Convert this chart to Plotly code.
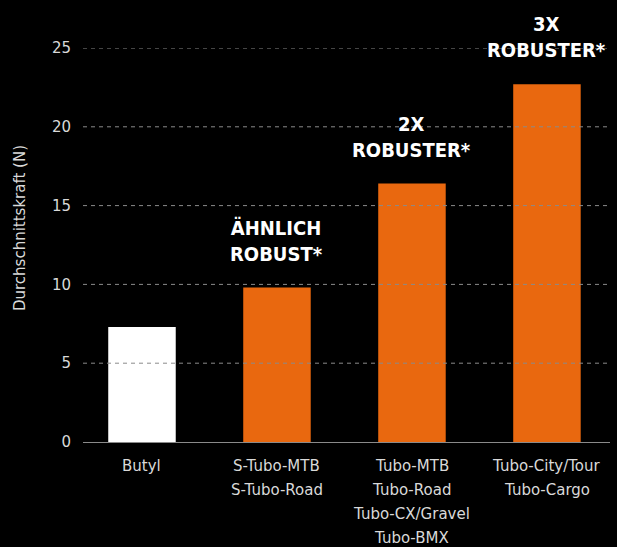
import plotly.graph_objects as go

categories = [["Butyl"], ["S-Tubo-MTB", "S-Tubo-Road"], ["Tubo-MTB", "Tubo-Road", "Tubo-CX/Gravel", "Tubo-BMX"], ["Tubo-City/Tour", "Tubo-Cargo"]]
values = [7.3, 9.8, 16.4, 22.7]
bar_colors = ["#FFFFFF", "#E9680F", "#E9680F", "#E9680F"]
labels = ["", "ÄHNLICH<br>ROBUST*", "2X<br>ROBUSTER*", "3X<br>ROBUSTER*"]
tick_vals = [0, 5, 10, 15, 20, 25]
y_title = "Durchschnittskraft (N)"

TXT = "#D9D9D9"
GRID = "#8A8A8A"

fig = go.Figure()
fig.add_trace(go.Bar(x=list(range(len(categories))), y=values,
                     marker=dict(color=bar_colors, line=dict(width=0)), width=0.5, hoverinfo="skip"))

for i, (v, t) in enumerate(zip(values, labels)):
    if t:
        fig.add_annotation(x=i, y=v, xref="x", yref="y", text=t, showarrow=False,
                           yanchor="bottom", yshift=20,
                           font=dict(family="DejaVu Sans Condensed", size=20, color="#FFFFFF", weight="bold"))

for i, lines in enumerate(categories):
    for k, line in enumerate(lines):
        fig.add_annotation(x=i, y=0, xref="x", yref="paper", text=line, showarrow=False,
                           yanchor="middle", yshift=-(24 + 24 * k),
                           font=dict(family="DejaVu Sans", size=15, color=TXT))

fig.add_annotation(x=0, y=0.543, xref="paper", yref="paper", text=y_title, showarrow=False,
                   textangle=-90, xanchor="center", yanchor="middle", xshift=-63,
                   font=dict(family="DejaVu Sans", size=15, color=TXT))

for tv in tick_vals[1:]:
    fig.add_shape(type="line", xref="paper", yref="y", x0=0, x1=1, y0=tv, y1=tv,
                  line=dict(color=GRID, width=1, dash="4px,4px"), layer="above")

fig.update_layout(
    width=617, height=547,
    paper_bgcolor="#000000", plot_bgcolor="#000000",
    margin=dict(l=83, r=7, t=48, b=105),
    showlegend=False,
    xaxis=dict(range=[-0.437, 3.467], showticklabels=False,
               showgrid=False, zeroline=False, showline=False, ticks=""),
    yaxis=dict(range=[0, 25], tickvals=tick_vals, showgrid=False,
               zeroline=True, zerolinecolor=GRID, zerolinewidth=1,
               ticks="", ticklabelstandoff=11,
               tickfont=dict(family="DejaVu Sans", size=15, color=TXT)),
)

fig.write_html("out.html", config={"displayModeBar": False}, post_script="document.body.style.margin='0';")
